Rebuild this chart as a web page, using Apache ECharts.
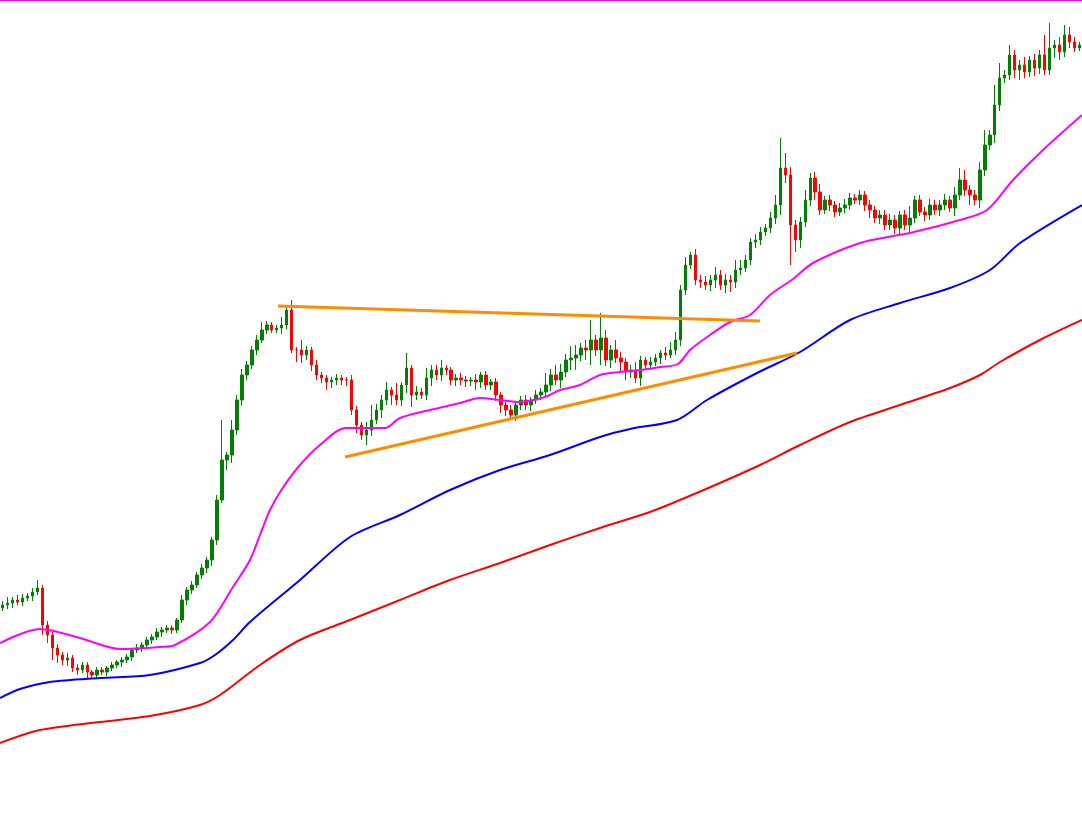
<!DOCTYPE html>
<html lang="en">
<head>
  <meta charset="UTF-8" />
  <title>Chart</title>
  <script src="https://cdn.jsdelivr.net/npm/echarts@6/dist/echarts.min.js"></script>
  <style>
    body, html { margin: 0; padding: 0; width: 100%; height: 100%; overflow: hidden; background: #fff; }
    #chart { width: 1082px; height: 819px; }
  </style>
</head>
<body>
<div id="chart"></div>
<script>
  // levels are measured downward from the top of the picture (y axis is inverted)
  var closes = [
    605,603,600,602,598,596,592,588,625,635,
    648,655,660,658,668,670,665,672,675,670,
    672,668,665,662,660,657,650,648,645,640,
    637,632,630,628,630,620,600,590,585,575,
    568,560,540,500,460,455,430,400,375,365,
    350,340,330,325,330,328,325,310,350,350,
    355,350,365,375,378,382,380,378,380,380,
    410,425,435,430,420,410,400,390,395,400,
    385,368,395,392,395,378,370,375,368,370,
    380,378,380,381,380,382,375,385,382,395,
    405,410,415,405,400,405,400,395,392,385,
    375,380,372,360,358,355,348,350,340,350,
    338,360,350,358,362,372,370,378,360,365,
    362,358,353,355,350,340,290,265,255,280,
    282,285,280,275,285,280,282,270,268,260,
    242,240,232,228,218,205,168,175,225,240,
    222,200,178,192,210,200,205,212,208,205,
    198,200,195,205,210,218,215,225,220,228,
    215,225,218,200,212,215,205,210,205,200,
    208,195,180,190,195,200,170,145,135,105,
    78,75,55,70,65,72,60,68,55,70,
    48,45,52,35,42,48,45
  ];
  var upperWick = [
    4,6,3,5,4,3,4,8,3,4, 3,4,3,5,3,4,3,3,2,3, 3,2,3,2,3,3,2,4,3,3,
    3,4,3,3,3,2,5,3,4,3, 4,3,3,5,40,3,10,5,6,4, 4,5,8,4,3,3,8,3,10,3,
    10,4,3,5,3,3,3,4,3,3, 5,4,3,8,15,6,5,8,3,12, 3,15,3,6,4,10,5,5,8,3,
    3,4,5,4,3,6,3,4,3,4, 3,4,5,3,4,5,3,5,4,12, 6,10,8,6,12,10,5,8,20,5,
    25,8,5,10,6,4,5,8,4,3, 5,4,3,6,8,8,5,8,3,6, 5,6,5,8,5,6,5,10,8,5,
    4,6,5,4,6,10,30,15,8,5, 5,10,5,6,8,4,5,4,5,6, 5,4,5,4,5,4,5,5,6,5,
    4,5,12,4,5,5,6,5,5,6, 4,8,12,10,5,5,8,15,5,20, 15,5,10,5,5,8,4,6,5,20,
    25,5,8,10,8,5,3
  ];
  var lowerWick = [
    3,4,5,3,4,3,5,3,10,8, 12,8,5,6,4,5,3,6,3,4, 3,4,3,3,5,3,4,3,4,3,
    4,3,5,3,4,3,3,5,4,3, 4,5,6,5,3,10,8,5,6,5, 4,5,3,4,3,3,6,4,3,12,
    8,5,6,5,5,8,6,5,5,6, 5,8,5,10,6,4,8,5,10,5, 6,8,12,5,4,5,8,5,6,5,
    5,6,5,6,5,8,6,5,5,6, 8,6,5,6,5,5,6,4,5,5, 6,5,8,5,10,12,6,10,15,6,
    15,6,8,5,10,8,6,5,8,5, 5,4,6,5,3,5,6,5,4,5, 6,5,6,8,5,8,10,6,5,4,
    5,6,5,4,5,6,10,8,40,12, 8,5,6,8,5,4,6,5,4,5, 5,4,5,6,8,5,6,5,5,6,
    6,5,8,5,4,6,5,5,6,5, 4,8,5,6,10,5,8,6,5,8, 6,5,5,8,10,6,5,8,6,5,
    5,10,8,5,6,4,3
  ];
  var firstOpen = 608;

  var maFast = [[0,643],[40,629],[80,638],[120,649],[160,647],[175,645],[210,622],[233,587],[250,560],[260,535],[270,510],[282,489],[300,465],[320,445],[346,428],[385,428],[400,418],[430,410],[460,403],[480,398],[500,400],[520,402],[545,397],[560,390],[580,385],[600,375],[620,372],[640,370],[660,367],[678,364],[690,350],[710,335],[730,322],[750,315],[770,295],[793,279],[813,263],[860,243],[893,236],[910,233],[960,220],[987,210],[1013,180],[1043,150],[1082,115]];
  var maMid = [[0,698],[20,689],[50,682],[100,678],[150,675],[200,663],[215,655],[233,640],[250,622],[300,580],[350,537],[400,515],[450,490],[500,470],[550,455],[600,437],[630,429],[677,420],[707,400],[757,373],[800,352],[850,320],[900,303],[950,288],[990,270],[1020,243],[1082,205]];
  var maSlow = [[0,743],[40,730],[100,722],[150,716],[200,705],[220,695],[260,665],[300,640],[350,620],[400,600],[450,580],[500,563],[550,545],[600,528],[650,512],[680,500],[720,483],[760,465],[800,445],[850,422],[900,405],[950,388],[980,375],[1000,362],[1040,340],[1082,320]];
  var trendTop = [[278,306],[760,321]];
  var trendBottom = [[345,457],[797,353]];

  var candles = closes.map(function (c, i) {
    var o = i === 0 ? firstOpen : closes[i - 1];
    var top = Math.min(o, c) - upperWick[i];
    var bottom = Math.max(o, c) + lowerWick[i];
    return [o, c, bottom, top];
  });

  var chart = echarts.init(document.getElementById('chart'));
  chart.setOption({
    animation: false,
    backgroundColor: '#ffffff',
    grid: { left: 0, right: 0, top: 0, bottom: 0 },
    xAxis: [
      { type: 'category', data: closes.map(function (c, i) { return i; }), show: false },
      { type: 'value', min: 0, max: 1082, show: false }
    ],
    yAxis: { type: 'value', inverse: true, min: 0, max: 819, show: false },
    graphic: [{
      type: 'rect', left: 0, top: 0, shape: { width: 1082, height: 1 },
      style: { fill: '#ff00ff' }
    }],
    series: [
      {
        type: 'line', xAxisIndex: 1, data: maSlow, symbol: 'none', smooth: 0.3,
        lineStyle: { color: '#ff0000', width: 2 }
      },
      {
        type: 'line', xAxisIndex: 1, data: maMid, symbol: 'none', smooth: 0.3,
        lineStyle: { color: '#0000ff', width: 2 }
      },
      {
        type: 'line', xAxisIndex: 1, data: maFast, symbol: 'none', smooth: 0.3,
        lineStyle: { color: '#ff00ff', width: 2 }
      },
      {
        type: 'candlestick', xAxisIndex: 0, data: candles, barWidth: 3,
        itemStyle: { color: '#ff0000', color0: '#008000', borderColor: '#ff0000', borderColor0: '#008000', borderWidth: 1 }
      },
      {
        type: 'line', xAxisIndex: 1, data: trendTop, symbol: 'none',
        lineStyle: { color: '#ff8c00', width: 3 }
      },
      {
        type: 'line', xAxisIndex: 1, data: trendBottom, symbol: 'none',
        lineStyle: { color: '#ff8c00', width: 3 }
      }
    ]
  });
</script>
</body>
</html>
